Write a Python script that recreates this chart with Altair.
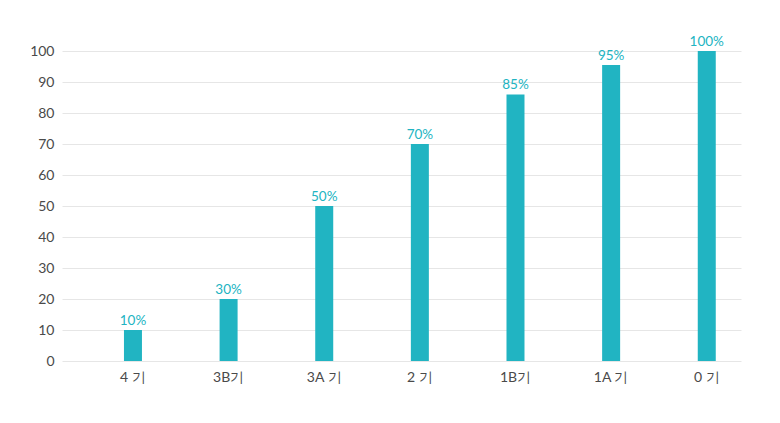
import altair as alt
import pandas as pd

categories = ["4 기", "3B기", "3A 기", "2 기", "1B기", "1A 기", "0 기"]
values = [10, 20, 50, 70, 86, 95.5, 100]
labels = ["10%", "30%", "50%", "70%", "85%", "95%", "100%"]

df = pd.DataFrame({"cat": categories, "val": values, "label": labels})

teal = "#21B4C2"

x = alt.X("cat:N", sort=categories, title=None,
          scale=alt.Scale(paddingInner=0.5, paddingOuter=0.3, align=0.82),
          axis=alt.Axis(labelAngle=0, domain=False, ticks=False, grid=False,
                        labelPadding=9, labelFontSize=14, labelColor="#4a4a4a",
                        labelFont="Lato"))
y = alt.Y("val:Q", title=None,
          scale=alt.Scale(domain=[0, 100], nice=False),
          axis=alt.Axis(values=list(range(0, 101, 10)), domain=False, ticks=False,
                        gridColor="#e6e6e6", gridWidth=1, labelPadding=8,
                        labelFontSize=14, labelColor="#4a4a4a", labelFont="Lato"))

bars = alt.Chart(df).mark_bar(size=18, color=teal).encode(x=x, y=y)
text = alt.Chart(df).mark_text(color=teal, fontSize=13.5, font="Lato",
                               baseline="alphabetic", dy=-5).encode(x=x, y=y, text="label:N")

chart = (bars + text).properties(
    width=679, height=310,
    autosize=alt.AutoSizeParams(type="none"),
    padding={"left": 54, "top": 43, "right": 30, "bottom": 50},
    background="white",
).configure_view(stroke=None)

chart.save("out.html", embed_options={"renderer": "svg", "actions": False})
